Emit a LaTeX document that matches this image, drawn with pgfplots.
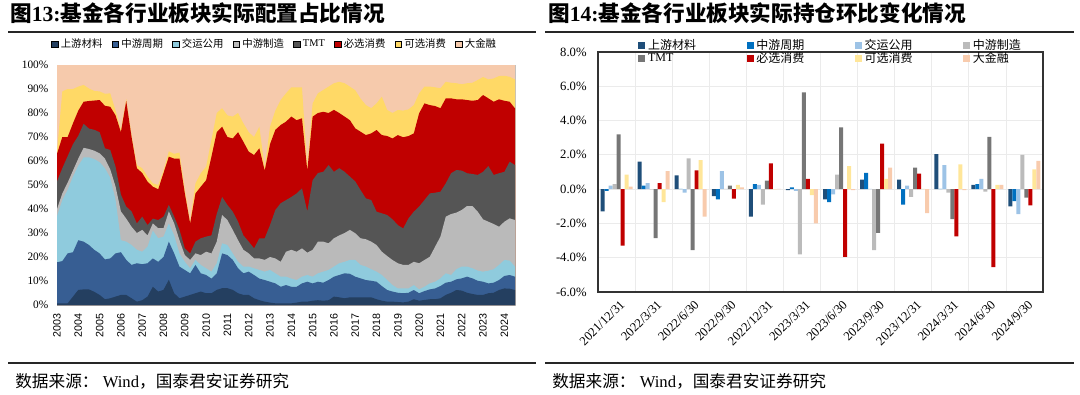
\documentclass[border=0pt]{standalone}
\usepackage{pgfplots}
\pgfplotsset{compat=1.18}
\usepackage{pgfplotstable}
\usepackage{fontspec}
\setmainfont{Liberation Serif}
\setsansfont{Liberation Sans}
\newfontfamily\cjk{Noto Sans CJK SC}

\definecolor{aNavy}{HTML}{243F60}
\definecolor{aBlue}{HTML}{375E93}
\definecolor{aCyan}{HTML}{8FCBDD}
\definecolor{aLgray}{HTML}{BABABA}
\definecolor{aDgray}{HTML}{555555}
\definecolor{aRed}{HTML}{C00000}
\definecolor{aYel}{HTML}{FFD966}
\definecolor{aPeach}{HTML}{F6CAAC}

\definecolor{bNavy}{HTML}{1F4E79}
\definecolor{bBlue}{HTML}{0070C0}
\definecolor{bLblue}{HTML}{9DC3E6}
\definecolor{bLgray}{HTML}{BBBBBB}
\definecolor{bDgray}{HTML}{767676}
\definecolor{bRed}{HTML}{C00000}
\definecolor{bYel}{HTML}{FFE699}
\definecolor{bPeach}{HTML}{F8CBAD}

% cumulative boundaries of the stacked areas (%), quarterly, i=0 is 2003
\pgfplotstableread{
i L1 L2 L3 L4 L5 L6 L7 L8
0 0.7 17.8 37 40 51.5 63 64 100
1 0.7 18.3 43.7 46.5 57 70 89 100
2 0.7 21.5 48 51 62 70 90 100
3 3.5 22 53.5 56 67 75.7 90 100
4 6.3 27 58 61 70.5 81 91 100
5 6.5 26.4 61.5 65.5 75.5 84.7 91.7 100
6 6.5 25 61.5 65 73.5 85 90.2 100
7 5.5 23 60.8 64.3 73 85.2 89.2 100
8 4.2 21.5 59.5 63.2 72 85.4 89 100
9 2.4 19 57 61 65.3 83 88 100
10 2.8 19.4 53 56.5 64.6 82.6 88.2 100
11 3.5 21.5 43.7 49.3 57.6 79 81 100
12 4.2 22 27 39 46 72 73 100
13 4.2 18.8 26.4 36 41 85 85.8 100
14 2.8 16.7 25 32.6 39 70 70.8 100
15 1.4 17.4 23 30 34 57 58.3 100
16 2 17 22.2 31.3 36.8 55 57 100
17 3.5 17.4 24.3 29 33.3 51.4 53.5 100
18 7.6 19.4 31 34 36 49.3 50.7 100
19 5.6 18 27.8 32 35.4 48.2 50 100
20 6.3 20 28.5 32 36.8 55 56 100
21 10.5 26.4 34 39 41.7 61.8 64 100
22 4.9 21.5 29 34 36.8 61 63 100
23 2.8 16 21.5 27 31.3 61 63.5 100
24 3.5 14.6 18 20.8 23.6 46.5 48 100
25 4.2 13.2 15.3 18.8 21.5 34 34.7 100
26 4.9 16.7 18.8 21.5 26.4 46.5 50.7 100
27 5.6 13.2 16.7 20.8 27.8 49.3 54.9 100
28 4.9 12.5 15.3 22.2 28.5 52 57.6 100
29 4.9 11 13.9 21.5 29 61.8 68.8 100
30 6.3 13.2 17.4 26.4 38 72 80 100
31 7 21.5 25.7 37.5 45 74.3 82 100
32 7 20.8 25 35.4 41.7 70 79 100
33 6.3 18.8 21.5 31.3 38.9 69.4 78.5 100
34 4.9 15.3 18 27 34.7 72 80 100
35 4.2 13.2 16 23 29 68 75.7 100
36 4.2 13.9 16 21.5 26.4 63.9 72 100
37 2.8 12.5 15.3 19.4 23.6 62.5 70 100
38 2 11 14.6 19.4 27.8 65.3 74.3 100
39 1.4 10.4 13.9 18.8 27.8 56 57 100
40 1 9.7 14.6 20 33.3 67 74.3 100
41 0.7 9 13.2 19.4 39.6 73 81 100
42 0.7 7.6 11.8 18 42.4 75 85.4 100
43 0.7 8.3 11.8 22.2 43.7 76.4 88.2 100
44 0.7 7.6 11 23 45 78.5 90.7 100
45 1 7.6 10.4 22.2 46.5 77 90.7 100
46 1.4 9 11.8 23.6 48.6 77.8 90.7 100
47 1.4 9.7 12.5 21.8 39 56 57.5 100
48 1.8 9 11.8 23 52 78.5 84 100
49 2 9.7 13.2 26.4 55 80 88.2 100
50 1.8 9.3 13.9 26.4 55.5 80.5 89.6 100
51 2 10.4 14.6 25.7 58.3 80 91 100
52 3.5 11.8 16 27.8 55.5 81.3 92.4 100
53 3.2 12.5 17.4 29 57 80 93 100
54 2.8 13.2 18 30 55.5 78.5 92.4 100
55 3.2 13 18.8 31.3 53.5 77 91 100
56 3.2 11.8 18.8 29.9 51.5 73.6 89.5 100
57 3.2 11.1 16.7 27.8 47.9 72.2 86 100
58 3.2 10.4 16 27.4 44.4 70.8 83.3 100
59 3.2 10.1 14.9 26.4 43.75 71.5 82 100
60 2.4 9.7 13.9 25 38.9 72.9 84 100
61 1.8 7.9 12.5 22.2 38.2 70.8 86.8 100
62 1.4 6.25 10.4 20.4 37.5 70.4 81.25 100
63 1.4 5.6 8.3 18.75 35.7 69.4 80 100
64 1.25 5.1 6.9 17.4 33.3 70.8 81.25 100
65 1.1 4.9 6.9 16.7 31.9 69.9 81 100
66 1.4 5.1 6.9 16.7 36.1 70.4 81.5 100
67 2.4 6.25 8.3 18 38.9 71.5 83.3 100
68 1.8 4.9 6.5 17.4 41 79.9 88.2 100
69 2.1 5.8 7.6 18.75 43.75 84 91 100
70 2.4 6.5 9 20.1 46.5 83.3 91 100
71 2.4 6.9 9.7 24.3 46.8 82.9 90.7 100
72 2.8 7.9 11.1 28.5 47.2 82 90.3 100
73 4.2 9.3 13.2 36.8 50.7 86.1 93 100
74 5.1 9.7 12.5 37.9 54.9 86.1 92.6 100
75 6.25 10.7 14.9 38.5 56.25 85.7 92.4 100
76 6 11.1 16 39.6 56 85.7 92 100
77 5.1 11.8 16 41.25 54.9 85.4 92.4 100
78 4.6 11.1 15.3 41.25 54.6 85.1 92.6 100
79 4.2 10.1 14.3 38.9 54.2 85.4 93.75 100
80 4.2 9.7 13.9 35.7 55.5 87.5 95 100
81 4.9 9 14.3 34.7 57.9 86.1 94 100
82 5.1 9.3 14.9 33.75 54.2 84.7 94.4 100
83 6.25 10.4 16.7 32.6 54.9 85.7 95.4 100
84 6.9 12.1 18.75 34.7 55.5 85.1 95.5 100
85 6.8 12.5 18.5 36.1 59.7 84.7 95.1 100
86 6.25 11.8 16 35.4 58.3 81.9 94 100
}\shares

\begin{document}
\begin{tikzpicture}[x=0.75pt,y=0.75pt]
\useasboundingbox (0,0) rectangle (1080,394);

% titles and rules
\node[anchor=base west,inner sep=0pt] at (10,373) {\fontsize{16.2}{17}\selectfont{\cjk\bfseries 图}{\bfseries 13:}{\cjk\bfseries 基金各行业板块实际配置占比情况}};
\node[anchor=base west,inner sep=0pt] at (548,373) {\fontsize{16.2}{17}\selectfont{\cjk\bfseries 图}{\bfseries 14:}{\cjk\bfseries 基金各行业板块实际持仓环比变化情况}};
\draw[line width=1.1pt,black!85] (8,362) -- (536,362);
\draw[line width=1.1pt,black!85] (545,362) -- (1074,362);
\draw[line width=0.9pt,black!85] (8,31) -- (536,31);
\draw[line width=0.9pt,black!85] (545,31) -- (1074,31);
\node[anchor=base west,inner sep=0pt] at (15,7) {\fontsize{12.5}{13}\selectfont\cjk 数据来源：{\rmfamily\ Wind}，国泰君安证券研究};
\node[anchor=base west,inner sep=0pt] at (552,7) {\fontsize{12.5}{13}\selectfont\cjk 数据来源：{\rmfamily\ Wind}，国泰君安证券研究};

% ---------------- left: stacked area ----------------
\begin{axis}[
  at={(42.75pt,66.75pt)}, anchor=south west,
  width=343.5pt, height=180pt, scale only axis,
  xmin=0, xmax=86, ymin=0, ymax=100,
  axis line style={draw=black!25},
  major tick length=0pt,
  /pgf/number format/assume math mode=true,
  ytick={0,10,...,100},
  yticklabel={\pgfmathprintnumber{\tick}\%},
  y tick label style={font=\fontsize{8.5}{9}\selectfont, xshift=-3pt},
  xtick={0,4,...,84},
  xticklabels={2003,2004,2005,2006,2007,2008,2009,2010,2011,2012,2013,2014,2015,2016,2017,2018,2019,2020,2021,2022,2023,2024},
  x tick label style={font=\sffamily\fontsize{8}{8}\selectfont, rotate=90, anchor=east, xshift=-3pt},
  legend columns=8,
  legend style={at={(0.476,1.0875)}, anchor=center, draw=none, fill=none,
    font=\cjk\fontsize{7.8}{8.5}\selectfont,
    /tikz/every even column/.append style={column sep=5pt}},
  legend image code/.code={\fill[#1] (0pt,-2.4pt) rectangle (4.8pt,2.4pt);},
]
\addlegendimage{fill=aNavy}\addlegendentry{上游材料}
\addlegendimage{fill=aBlue}\addlegendentry{中游周期}
\addlegendimage{fill=aCyan}\addlegendentry{交运公用}
\addlegendimage{fill=aLgray}\addlegendentry{中游制造}
\addlegendimage{fill=aDgray}\addlegendentry{{\rmfamily TMT}}
\addlegendimage{fill=aRed}\addlegendentry{必选消费}
\addlegendimage{fill=aYel}\addlegendentry{可选消费}
\addlegendimage{fill=aPeach}\addlegendentry{大金融}
\addplot[draw=none,fill=aPeach,forget plot] table[x=i,y=L8]{\shares} \closedcycle;
\addplot[draw=none,fill=aYel,forget plot] table[x=i,y=L7]{\shares} \closedcycle;
\addplot[draw=none,fill=aRed,forget plot] table[x=i,y=L6]{\shares} \closedcycle;
\addplot[draw=none,fill=aDgray,forget plot] table[x=i,y=L5]{\shares} \closedcycle;
\addplot[draw=none,fill=aLgray,forget plot] table[x=i,y=L4]{\shares} \closedcycle;
\addplot[draw=none,fill=aCyan,forget plot] table[x=i,y=L3]{\shares} \closedcycle;
\addplot[draw=none,fill=aBlue,forget plot] table[x=i,y=L2]{\shares} \closedcycle;
\addplot[draw=none,fill=aNavy,forget plot] table[x=i,y=L1]{\shares} \closedcycle;
\end{axis}

% ---------------- right: grouped bars ----------------
\begin{axis}[
  at={(448.5pt,76.5pt)}, anchor=south west,
  width=333.75pt, height=180pt, scale only axis,
  ybar=0pt, bar width=3pt,
  xmin=-0.5, xmax=11.5, ymin=-6, ymax=8,
  axis line style={draw=black!80, line width=0.9pt},
  major tick length=0pt, minor tick length=0pt,
  /pgf/number format/assume math mode=true,
  ytick={-6,-4,...,8},
  yticklabel={\pgfmathprintnumber[fixed,fixed zerofill,precision=1]{\tick}\%},
  y tick label style={font=\fontsize{9.5}{10}\selectfont, xshift=-5pt},
  xtick={0,...,11},
  minor xtick={0.5,1.5,...,10.5},
  xticklabels={2021/12/31,2022/3/31,2022/6/30,2022/9/30,2022/12/31,2023/3/31,2023/6/30,2023/9/30,2023/12/31,2024/3/31,2024/6/30,2024/9/30},
  x tick label style={font=\fontsize{9.5}{9.5}\selectfont, rotate=45, anchor=north east, xshift=1pt, yshift=-2pt},
  ymajorgrids, xminorgrids,
  major grid style={draw=black!8, line width=0.6pt},
  minor grid style={draw=black!8, line width=0.6pt},
  legend columns=4,
  legend style={at={(0.5235,1.0)}, anchor=center, draw=none, fill=none,
    font=\cjk\fontsize{9}{9.5}\selectfont, row sep=-3pt,
    /tikz/every even column/.append style={column sep=36pt}},
  legend cell align=left,
  legend image code/.code={\fill[#1] (0pt,-2.6pt) rectangle (5.2pt,2.6pt);},
]
\addplot[draw=none,fill=bNavy] coordinates {(0,-1.3) (1,1.6) (2,0.8) (3,-0.4) (4,-1.6) (5,-0.05) (6,-0.6) (7,0.55) (8,0.55) (9,2.05) (10,0.25) (11,-1.0)};
\addplot[draw=none,fill=bBlue] coordinates {(0,-0.1) (1,0.2) (2,0.02) (3,-0.6) (4,0.3) (5,0.1) (6,-0.75) (7,0.95) (8,-0.9) (9,0.02) (10,0.3) (11,-0.7)};
\addplot[draw=none,fill=bLblue] coordinates {(0,0.2) (1,0.35) (2,-0.2) (3,1.05) (4,0.25) (5,-0.1) (6,-0.3) (7,0.02) (8,0.2) (9,1.4) (10,0.6) (11,-1.45)};
\addplot[draw=none,fill=bLgray] coordinates {(0,0.3) (1,-0.02) (2,1.8) (3,0.02) (4,-0.9) (5,-3.8) (6,0.85) (7,-3.55) (8,-0.45) (9,-0.2) (10,-0.15) (11,2.0)};
\addplot[draw=none,fill=bDgray] coordinates {(0,3.2) (1,-2.85) (2,-3.55) (3,0.2) (4,0.5) (5,5.65) (6,3.6) (7,-2.55) (8,1.25) (9,-1.75) (10,3.05) (11,-0.5)};
\addplot[draw=none,fill=bRed] coordinates {(0,-3.3) (1,0.35) (2,1.1) (3,-0.55) (4,1.5) (5,0.6) (6,-3.95) (7,2.65) (8,0.9) (9,-2.75) (10,-4.55) (11,-0.95)};
\addplot[draw=none,fill=bYel] coordinates {(0,0.85) (1,-0.75) (2,1.7) (3,0.25) (4,-0.02) (5,-0.35) (6,1.35) (7,0.6) (8,0.02) (9,1.45) (10,0.25) (11,1.15)};
\addplot[draw=none,fill=bPeach] coordinates {(0,0.15) (1,1.05) (2,-1.6) (3,0.1) (4,0.02) (5,-2.0) (6,-0.05) (7,1.25) (8,-1.4) (9,-0.05) (10,0.25) (11,1.65)};
\legend{上游材料,中游周期,交运公用,中游制造,{\rmfamily TMT},必选消费,可选消费,大金融}
\end{axis}
\end{tikzpicture}
\end{document}
